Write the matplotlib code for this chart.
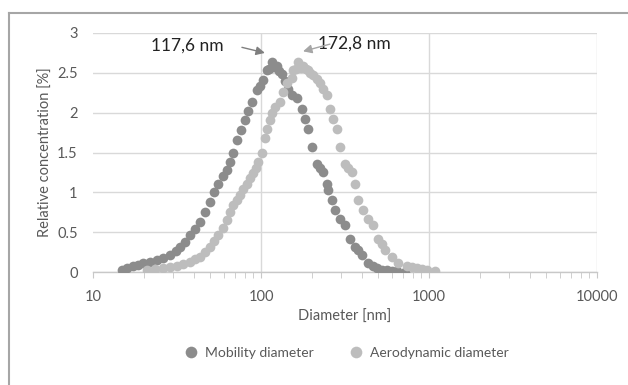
import numpy as np
import matplotlib.pyplot as plt
from matplotlib.lines import Line2D

plt.rcParams['font.family'] = ['Lato', 'DejaVu Sans']

# Mobility diameter distribution [nm], relative concentration [%]
mob_d = [14.8, 16.0, 17.4, 18.6, 19.9, 21.8, 23.9, 26.2, 28.7, 31.0, 33.0, 35.5,
         37.8, 40.5, 43.3, 46.5, 49.7, 52.5, 55.7, 59.0, 62.5, 65.5, 68.4, 71.7,
         76.0, 80.3, 84.0, 88.0, 94.3, 98.5, 103.0, 108.0, 111.5, 115.8, 120.0,
         124.0, 128.0, 132.8, 139.0, 145.5, 152.0, 163.0, 174.6, 182.0, 191.3,
         200.0, 214.0, 225.0, 235.0, 246.0, 252.0, 263.5, 275.7, 295.0, 316.0,
         339.0, 363.0, 380.0, 398.0, 436.0, 462.0, 489.0, 525.0, 560.0, 600.0,
         642.0, 720.0]
mob_v = [0.03, 0.05, 0.07, 0.09, 0.11, 0.13, 0.15, 0.18, 0.21, 0.26, 0.32, 0.38,
         0.46, 0.54, 0.63, 0.75, 0.88, 1.00, 1.11, 1.20, 1.28, 1.38, 1.49, 1.66,
         1.78, 1.91, 2.02, 2.14, 2.28, 2.34, 2.41, 2.53, 2.55, 2.64, 2.57,
         2.58, 2.52, 2.49, 2.40, 2.30, 2.22, 2.18, 2.05, 1.92, 1.80,
         1.57, 1.36, 1.30, 1.26, 1.11, 1.03, 0.90, 0.78, 0.67, 0.59,
         0.42, 0.32, 0.27, 0.21, 0.11, 0.08, 0.05, 0.03, 0.02, 0.01,
         0.01, 0.0]

# Aerodynamic diameter distribution [nm], relative concentration [%]
aer_d = [20.9, 23.5, 26.2, 28.8, 31.5, 34.5, 37.8, 40.5, 43.3, 46.5, 49.7, 52.5,
         55.7, 59.0, 62.5, 65.5, 68.4, 71.5, 75.0, 78.5, 82.2, 86.0, 90.0, 93.0,
         96.4, 101.0, 105.6, 109.0, 113.0, 117.0, 121.0, 129.8, 135.8, 142.0,
         152.0, 155.7, 161.0, 166.7, 172.0, 178.6, 184.5, 191.3, 197.0, 204.6,
         214.0, 224.5, 235.0, 246.0, 257.6, 270.0, 282.0, 295.0, 316.0, 330.0,
         346.0, 363.0, 380.0, 406.0, 436.0, 467.0, 500.0, 522.0, 547.0, 600.0,
         657.0, 736.0, 790.0, 845.0, 905.0, 969.0, 1086.0]
aer_v = [0.03, 0.04, 0.05, 0.06, 0.07, 0.10, 0.13, 0.16, 0.19, 0.25, 0.32, 0.39,
         0.46, 0.55, 0.65, 0.75, 0.84, 0.90, 0.97, 1.04, 1.11, 1.18, 1.24, 1.30,
         1.38, 1.49, 1.68, 1.80, 1.91, 2.00, 2.07, 2.14, 2.26, 2.37,
         2.43, 2.53, 2.55, 2.64, 2.56, 2.58, 2.55, 2.53, 2.50, 2.47,
         2.42, 2.37, 2.30, 2.22, 2.05, 1.92, 1.80, 1.57, 1.36, 1.31,
         1.26, 1.11, 0.90, 0.78, 0.67, 0.59, 0.42, 0.35, 0.28, 0.19,
         0.11, 0.07, 0.06, 0.05, 0.04, 0.03, 0.01]

mob_color = '#8c8c8c'
aer_color = '#bdbdbd'
text_grey = '#595959'

fig = plt.figure(figsize=(6.28, 3.85), dpi=100)
ax = fig.add_axes([93/628, 1 - 272/385, 504/628, 239/385])

ax.plot(mob_d, mob_v, 'o', color=mob_color, markersize=7, mew=0, zorder=3,
        label='Mobility diameter')
ax.plot(aer_d, aer_v, 'o', color=aer_color, markersize=7, mew=0, zorder=3,
        label='Aerodynamic diameter')

ax.set_xscale('log')
ax.set_xlim(10, 10000)
ax.set_ylim(0, 3)
ax.set_xticks([10, 100, 1000, 10000])
ax.set_xticklabels(['10', '100', '1000', '10000'])
ax.set_yticks([0, 0.5, 1, 1.5, 2, 2.5, 3])
ax.set_yticklabels(['0', '0.5', '1', '1.5', '2', '2.5', '3'])

ax.grid(True, which='major', color='#d9d9d9', linewidth=1.0, zorder=0)
ax.set_axisbelow(True)
ax.xaxis.get_gridlines()[0].set_visible(False)
for s in ['top', 'left', 'right']:
    ax.spines[s].set_visible(False)
ax.spines['bottom'].set_color('#c8c8c8')
ax.spines['bottom'].set_linewidth(1.0)

ax.tick_params(axis='x', which='major', length=4, color='#c8c8c8',
               labelsize=10.5, labelcolor=text_grey, pad=9)
ax.tick_params(axis='x', which='minor', length=4, color='#c8c8c8')
ax.tick_params(axis='y', length=0, labelsize=10.5, labelcolor=text_grey, pad=11)

ax.set_xlabel('Diameter [nm]', fontsize=10.5, color=text_grey, labelpad=4)
ax.set_ylabel('Relative concentration [%]', fontsize=10.5, color=text_grey,
              labelpad=3)

# Peak annotations
ax.text(60, 2.84, '117,6 nm', fontsize=12.5, color='#222222',
        ha='right', va='center')
ax.annotate('', xy=(105.5, 2.75), xytext=(77, 2.82),
            arrowprops=dict(arrowstyle='-|>', color='#7f7f7f', lw=1.0,
                            mutation_scale=13, shrinkA=0, shrinkB=0))
ax.text(219, 2.87, '172,8 nm', fontsize=12.5, color='#222222',
        ha='left', va='center')
ax.annotate('', xy=(178, 2.77), xytext=(257, 2.86),
            arrowprops=dict(arrowstyle='-|>', color='#a6a6a6', lw=1.0,
                            mutation_scale=13, shrinkA=0, shrinkB=0))

leg = fig.legend(loc='center', bbox_to_anchor=(343/628, 1 - 353/385), ncol=2,
                 frameon=False, fontsize=10, handletextpad=0.05,
                 columnspacing=2.0, markerscale=1.2)
for t in leg.get_texts():
    t.set_color(text_grey)

# Outer chart frame
fig.add_artist(Line2D([9/628, 1.0], [1 - 13/385, 1 - 13/385],
                      transform=fig.transFigure, color='#a6a6a6', lw=1.5))
fig.add_artist(Line2D([9/628, 9/628], [0.0, 1 - 13/385],
                      transform=fig.transFigure, color='#a6a6a6', lw=1.5))

fig.savefig('out.png', dpi=100)
